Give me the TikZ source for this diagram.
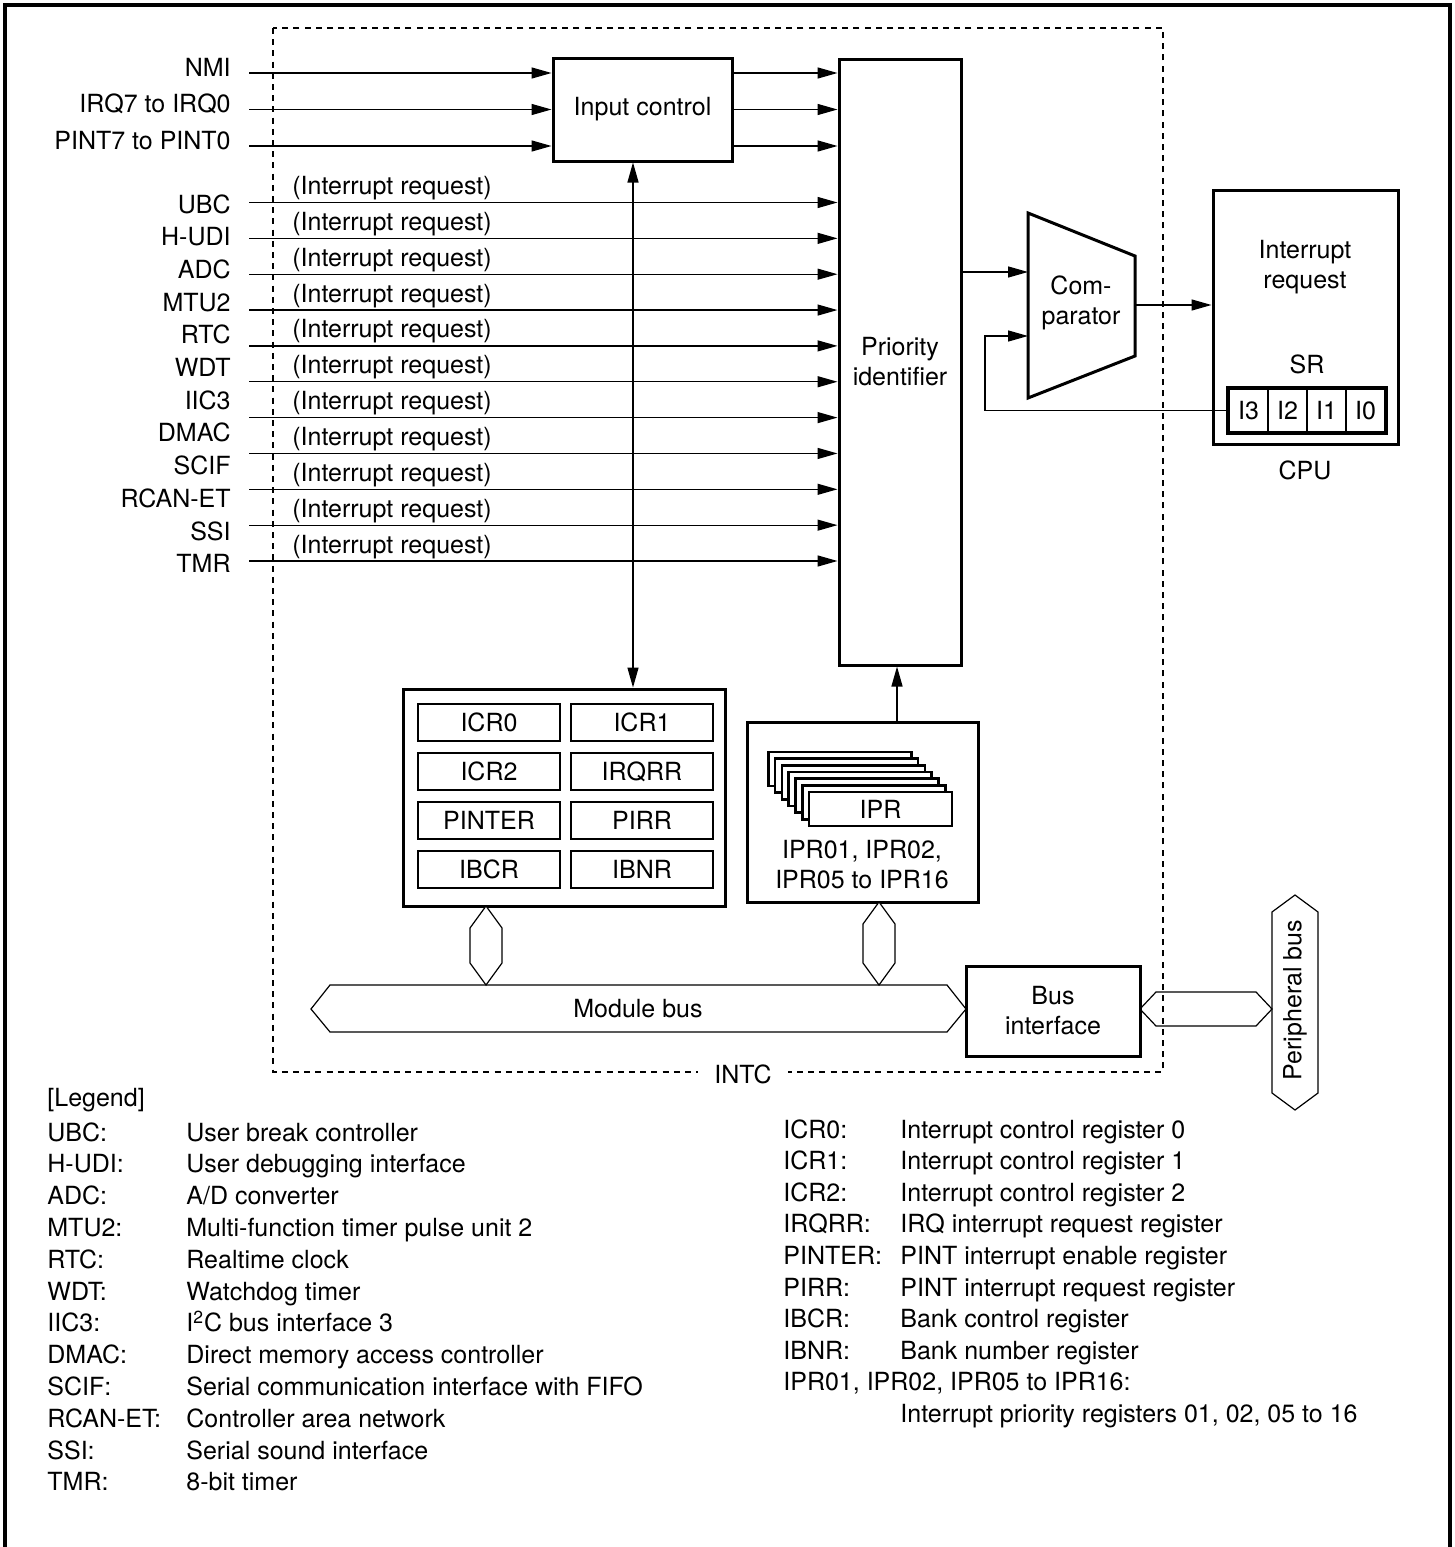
\documentclass[tikz,border=0pt]{standalone}
\usepackage{fontspec}
\setmainfont{TeX Gyre Heros}
\usetikzlibrary{arrows.meta,fit,calc}
\tikzset{
  thinl/.style={line width=0.65pt},
  arr/.style={thinl,-{Triangle[length=10pt,width=5.5pt]}},
  darr/.style={thinl,{Triangle[length=10pt,width=5.5pt]}-{Triangle[length=10pt,width=5.5pt]}},
  blk/.style={draw,line width=1.5pt,inner sep=0pt},
  cell/.style={draw,line width=1.3pt,inner sep=0pt,minimum width=71pt,minimum height=18.5pt,fill=white},
  card/.style={draw,line width=1.3pt,inner sep=0pt,minimum width=71.5pt,minimum height=17pt,fill=white},
  srcell/.style={draw,line width=1.1pt,inner sep=0pt,minimum width=19.5pt,minimum height=21.5pt},
  lbl/.style={anchor=base east,inner sep=0pt},
  irq/.style={anchor=base west,inner sep=0pt},
  leg/.style={anchor=base west,inner sep=0pt},
  busl/.style={line width=0.6pt},
  ml/.style={align=center},
}
\begin{document}
\begin{tikzpicture}[x=0.5pt,y=-0.5pt,font=\fontsize{12.5}{15}\selectfont]
\useasboundingbox (0,0) rectangle (1455,1547);
% outer frame
\draw[line width=2pt] (5,1547) -- (5,5) -- (1450,5) -- (1450,1547);
% INTC dashed box
\draw[line width=0.6pt,dash pattern=on 3pt off 2.6pt] (273,28) rectangle (1163,1072);
\node[fill=white,inner xsep=8pt,inner ysep=2pt] (intc) at (743,1074) {INTC};

% main blocks
\node[blk,fit={(553,58) (732,161)},label={center:Input control}] (ic) {};
\node[blk,fit={(839,59) (961,665)},label={[ml]center:Priority\\identifier}] (pi) {};

% top inputs
\foreach \t/\y [count=\k] in {NMI/73,IRQ7 to IRQ0/109.5,PINT7 to PINT0/146}{
  \node[lbl] (in\k) at (231,\y+3) {\t};
  \coordinate (is\k) at (249,\y);
  \draw[arr] (is\k) -- (is\k -| ic.west);
  \coordinate (io\k) at (732,\y);
  \draw[arr] (io\k) -- (io\k -| pi.west);
}

% peripheral labels
\foreach \t [count=\i from 0] in {UBC,H-UDI,ADC,MTU2,RTC,WDT,IIC3,DMAC,SCIF,RCAN-ET,SSI,TMR}{
  \node[lbl] (d\i) at (231,{213+32.7*\i}) {\t};
}
% interrupt request lines
\foreach \i in {0,...,10}{
  \coordinate (s\i) at (249,{202.5+35.85*\i});
  \draw[arr] (s\i) -- (s\i -| pi.west);
  \node[irq] (r\i) at (292,{194.5+35.85*\i}) {(Interrupt request)};
}

% register box
\node[blk,fit={(403,689) (725,906)}] (icr) {};
\node[cell] (icr0) at (489,722.5) {ICR0};
\node[cell] (icr1) at (642,722.5) {ICR1};
\node[cell] (icr2) at (489,771.5) {ICR2};
\node[cell] (irqrr) at (642,771.5) {IRQRR};
\node[cell] (pinter) at (489,820.5) {PINTER};
\node[cell] (pirr) at (642,820.5) {PIRR};
\node[cell] (ibcr) at (489,869.5) {IBCR};
\node[cell] (ibnr) at (642,869.5) {IBNR};

% input control <-> register box
\coordinate (vx) at (633,0);
\draw[darr] (ic.south -| vx) -- (icr.north -| vx);

% IPR box
\node[blk,fit={(747,722) (978,902)}] (ipr) {};
\foreach \k in {6,5,4,3,2,1}{
  \node[card] (c\k) at ({880.5-6.8*\k},{809-6.7*\k}) {};
}
\node[card] (iprc) at (880.5,809) {IPR};
\node[ml] (iprt) at (862,865) {IPR01, IPR02,\\IPR05 to IPR16};
\coordinate (ux) at (897,0);
\draw[arr] (ipr.north -| ux) -- (pi.south -| ux);

% comparator
\draw[line width=1.5pt] (1028,213) -- (1135,256) -- (1135,356) -- (1028,398) -- cycle;
\node[ml] (cmp) at (1081,303) {Com-\\parator};
\coordinate (cmpA) at (1028,272);
\coordinate (cmpB) at (1028,336);
\coordinate (cmpO) at (1135,305);
\draw[arr] (pi.east |- cmpA) -- (cmpA);

% CPU
\node[blk,fit={(1213,190) (1398,444)}] (cpu) {};
\node[ml] (irqt) at (1305,267) {Interrupt\\request};
\node (sr) at (1307,364) {SR};
\node[srcell] (i3) at (1248.5,410.5) {I3};
\node[srcell] (i2) at (1287.5,410.5) {I2};
\node[srcell] (i1) at (1326.5,410.5) {I1};
\node[srcell] (i0) at (1365.5,410.5) {I0};
\draw[line width=1.5pt] (i3.north west) rectangle (i0.south east);
\node (cpul) at (1305,470) {CPU};
\draw[arr] (cmpO) -- (cmpO -| cpu.west);
\coordinate (fbx) at (985,0);
\draw[arr] (i3.west) -- (i3.west -| fbx) |- (cmpB);

% vertical bus connectors
\foreach \x/\top in {486/906,879/902}{
  \draw[busl,fill=white] (\x,\top) -- (\x+16,\top+22) -- (\x+16,985-22) -- (\x,985) -- (\x-16,985-22) -- (\x-16,\top+22) -- cycle;
}
% module bus
\draw[busl] (311,1009) -- (330,985) -- (947,985) -- (966,1009) -- (947,1032) -- (330,1032) -- cycle;
\node (mbus) at (638,1009) {Module bus};
% bus interface
\node[blk,fit={(966,966) (1140,1056)},label={[ml]center:Bus\\interface}] (bif) {};
% peripheral bus
\draw[busl] (1295,895) -- (1318,912) -- (1318,1093) -- (1295,1110) -- (1272,1093) -- (1272,912) -- cycle;
\node[rotate=90] (pbus) at (1295,1000) {Peripheral bus};
\draw[busl] (1140,1009) -- (1156,992) -- (1256,992) -- (1272,1009) -- (1256,1026) -- (1156,1026) -- cycle;

% legend
\node[leg] (legt) at (47,1106) {[Legend]};
\foreach \a/\b [count=\i from 0] in {UBC:/{User break controller},H-UDI:/{User debugging interface},ADC:/{A/D converter},MTU2:/{Multi-function timer pulse unit 2},RTC:/{Realtime clock},WDT:/{Watchdog timer},IIC3:/{I\textsuperscript{2}C bus interface 3},DMAC:/{Direct memory access controller},SCIF:/{Serial communication interface with FIFO},RCAN-ET:/{Controller area network},SSI:/{Serial sound interface},TMR:/{8-bit timer}}{
  \node[leg] (la\i) at (47,{1141+31.8*\i}) {\a};
  \node[leg] (lb\i) at (186,{1141+31.8*\i}) {\b};
}
\foreach \a/\b [count=\i from 0] in {ICR0:/{Interrupt control register 0},ICR1:/{Interrupt control register 1},ICR2:/{Interrupt control register 2},IRQRR:/{IRQ interrupt request register},PINTER:/{PINT interrupt enable register},PIRR:/{PINT interrupt request register},IBCR:/{Bank control register},IBNR:/{Bank number register}}{
  \node[leg] (ra\i) at (783,{1138+31.6*\i}) {\a};
  \node[leg] (rb\i) at (900,{1138+31.6*\i}) {\b};
}
\node[leg] (ra8) at (783,{1138+31.6*8}) {IPR01, IPR02, IPR05 to IPR16:};
\node[leg] (rb8) at (900,{1138+31.6*9}) {Interrupt priority registers 01, 02, 05 to 16};
\end{tikzpicture}
\end{document}
